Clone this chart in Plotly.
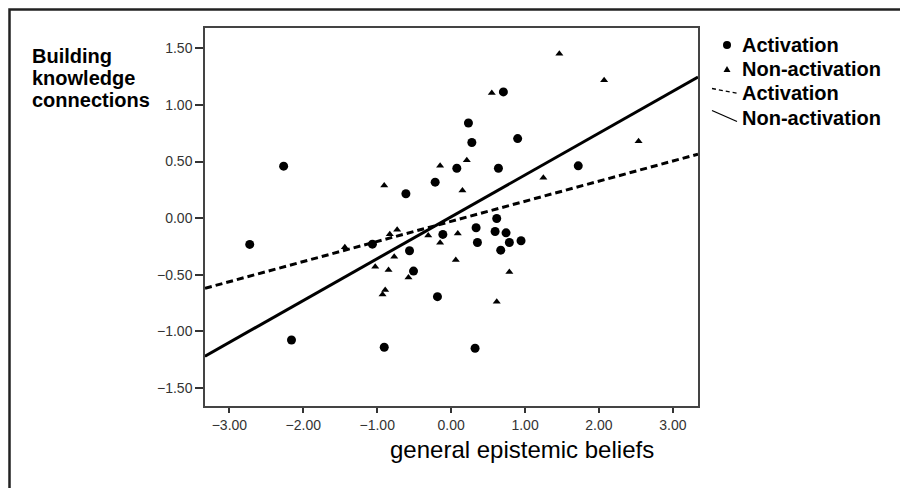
import plotly.graph_objects as go

# ---- data ----
act_x = [-2.266, -2.725, -2.16, -1.065, -0.612, -0.216, 0.077, 0.234, 0.28, 0.707,
         0.90, 0.64, 1.72, 0.617, 0.338, 0.595, 0.743, 0.946, 0.788, 0.356,
         0.671, -0.112, -0.563, -0.509, -0.185, -0.905, 0.324]
act_y = [0.459, -0.232, -1.077, -0.23, 0.215, 0.318, 0.441, 0.841, 0.668, 1.115,
         0.703, 0.441, 0.462, -0.003, -0.085, -0.118, -0.13, -0.2, -0.215, -0.215,
         -0.283, -0.144, -0.288, -0.468, -0.694, -1.141, -1.15]

non_x = [0.55, 1.464, 2.07, 2.536, 1.248, -0.149, 0.212, -0.905, 0.153, -1.438,
         0.09, -0.149, -0.31, -0.73, -0.83, -0.77, -1.027, -0.847, -0.577, 0.063,
         0.788, -0.892, -0.928, 0.617]
non_y = [1.106, 1.453, 1.218, 0.68, 0.356, 0.462, 0.512, 0.289, 0.245, -0.258,
         -0.135, -0.218, -0.153, -0.103, -0.142, -0.341, -0.43, -0.459, -0.524, -0.371,
         -0.477, -0.635, -0.674, -0.738]

# fit lines (endpoints read at the plot edges)
line_x = [-3.33, 3.34]
act_line_y = [-0.62, 0.565]
non_line_y = [-1.22, 1.247]

x_ticks = [-3, -2, -1, 0, 1, 2, 3]
y_ticks = [-1.5, -1.0, -0.5, 0.0, 0.5, 1.0, 1.5]

legend_labels = ["Activation", "Non-activation", "Activation", "Non-activation"]
y_title_lines = ["Building", "knowledge", "connections"]
x_title = "general epistemic beliefs"

FONT = "Liberation Sans, Arial, sans-serif"

# page offset (browser body margin) and plot box in page pixels
OFF = 8
FW, FH = 900, 480
L, R, T, B = 205 - OFF, 698 - OFF, 28 - OFF, 406 - OFF
W, H = R - L, B - T


def px_x(p):
    return (p - OFF - L) / W


def px_y(p):
    return (B - (p - OFF)) / H


fig = go.Figure()
fig.add_trace(go.Scatter(x=act_x, y=act_y, mode="markers", name=legend_labels[0],
                         marker=dict(symbol="circle", size=9, color="black")))
fig.add_trace(go.Scatter(x=non_x, y=non_y, mode="markers", name=legend_labels[1],
                         marker=dict(symbol="triangle-up", size=7, color="black")))
fig.add_trace(go.Scatter(x=line_x, y=act_line_y, mode="lines", name=legend_labels[2],
                         line=dict(color="black", width=3, dash="7px,4px")))
fig.add_trace(go.Scatter(x=line_x, y=non_line_y, mode="lines", name=legend_labels[3],
                         line=dict(color="black", width=3)))

axis_common = dict(showline=True, linecolor="#444", linewidth=1.5, mirror=True,
                   ticks="outside", tickcolor="#333", tickwidth=1.5,
                   showgrid=False, zeroline=False, tickformat=".2f",
                   tickfont=dict(family=FONT, size=14, color="#333"))

fig.update_layout(
    width=FW, height=FH,
    margin=dict(l=L, r=FW - R, t=T, b=FH - B),
    paper_bgcolor="white", plot_bgcolor="white",
    xaxis=dict(range=[-3.33, 3.34], tickvals=x_ticks, ticklen=5, **axis_common),
    yaxis=dict(range=[-1.66, 1.68], tickvals=y_ticks, ticklen=8, **axis_common),
    showlegend=False,
)

# ---- legend drawn to match the reference layout ----
leg_font = dict(family=FONT, size=20, color="black", weight="bold")
for txt, py in zip(legend_labels, [45, 69.5, 93.5, 118]):
    fig.add_annotation(text=txt, xref="paper", yref="paper", x=px_x(740), y=px_y(py),
                       xanchor="left", yanchor="middle", showarrow=False, font=leg_font)
# circle glyph
fig.add_shape(type="circle", xref="paper", yref="paper",
              x0=px_x(723), x1=px_x(731), y0=px_y(49), y1=px_y(41),
              fillcolor="black", line=dict(color="black", width=0))
# triangle glyph
fig.add_shape(type="path", xref="paper", yref="paper",
              path="M {} {} L {} {} L {} {} Z".format(px_x(723.5), px_y(72), px_x(730.5), px_y(72),
                                                     px_x(727), px_y(66)),
              fillcolor="black", line=dict(color="black", width=0))
# dashed line glyph
fig.add_shape(type="line", xref="paper", yref="paper",
              x0=px_x(712), y0=px_y(88.5), x1=px_x(738), y1=px_y(93.5),
              line=dict(color="black", width=1.3, dash="4px,3px"))
# solid line glyph
fig.add_shape(type="line", xref="paper", yref="paper",
              x0=px_x(712), y0=px_y(110.5), x1=px_x(737), y1=px_y(121.5),
              line=dict(color="black", width=1.3))

# y-axis title lines
for txt, py in zip(y_title_lines, [56, 78, 100]):
    fig.add_annotation(text=txt, xref="paper", yref="paper", x=px_x(30), y=px_y(py),
                       xanchor="left", yanchor="middle", showarrow=False,
                       font=dict(family=FONT, size=20, color="black", weight="bold"))

# x-axis title
fig.add_annotation(text=x_title, xref="paper", yref="paper",
                   x=px_x(522), y=px_y(449), xanchor="center", yanchor="middle",
                   showarrow=False, font=dict(family=FONT, size=24, color="black"))

# outer frame (bottom edge lies below the visible area, as in the reference)
fig.add_shape(type="rect", xref="paper", yref="paper",
              x0=px_x(9.5), x1=px_x(904), y0=px_y(495), y1=px_y(9.5),
              line=dict(color="#222", width=2.5), layer="below")

fig.write_html("out.html")
